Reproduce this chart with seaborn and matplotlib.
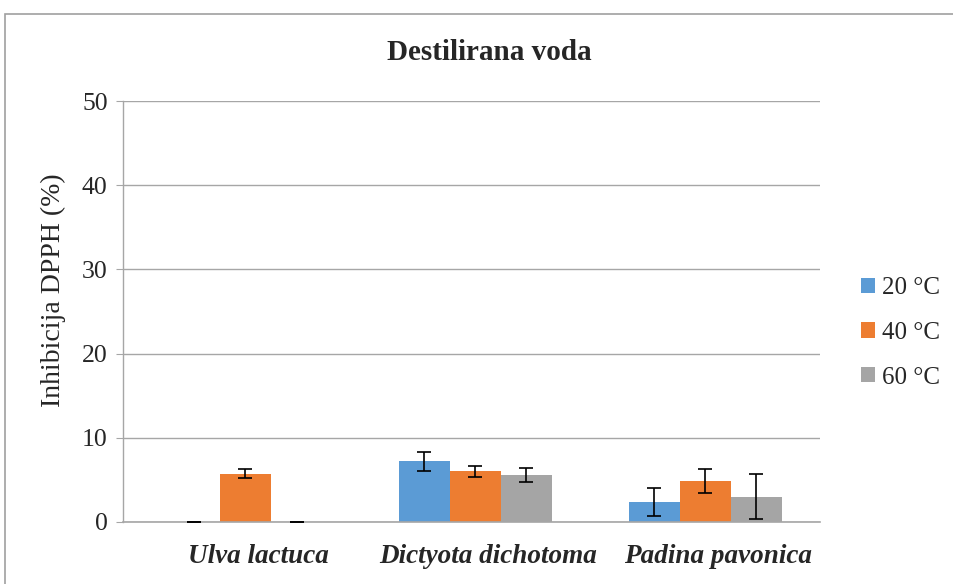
import matplotlib
matplotlib.use("Agg")
import matplotlib.pyplot as plt
import matplotlib.transforms as mtransforms
import seaborn as sns
import pandas as pd
import numpy as np
from matplotlib.patches import Rectangle, Patch

species = ["Ulva lactuca", "Dictyota dichotoma", "Padina pavonica"]
temps = ["20 °C", "40 °C", "60 °C"]
vals_20 = [0.0, 7.2, 2.35]
vals_40 = [5.75, 6.0, 4.85]
vals_60 = [0.0, 5.6, 3.0]
err_20 = [0.0, 1.1, 1.65]
err_40 = [0.55, 0.65, 1.45]
err_60 = [0.0, 0.85, 2.7]
yticks = [0, 10, 20, 30, 40, 50]
colors = ["#5B9BD5", "#ED7D31", "#A5A5A5"]

rows = []
for t, vals, errs in zip(temps, [vals_20, vals_40, vals_60], [err_20, err_40, err_60]):
    for s, v, e in zip(species, vals, errs):
        rows.append({"species": s, "temp": t, "value": v, "err": e})
df = pd.DataFrame(rows)

sns.set_style("white")
plt.rcParams["font.family"] = ["Liberation Serif", "DejaVu Serif"]

fig = plt.figure(figsize=(9.54, 5.84), dpi=100)
ax = fig.add_axes([123/954, 1-522/584, (820-123)/954, (522-101)/584])

sns.barplot(data=df, x="species", y="value", hue="temp", order=species,
            hue_order=temps, palette=colors, width=0.666, errorbar=None,
            saturation=1, ax=ax, legend=False, edgecolor="none", linewidth=0)

for cont, t in zip(ax.containers, temps):
    sub = df[df.temp == t].set_index("species").loc[species]
    xs = [p.get_x() + p.get_width()/2 for p in cont.patches]
    hs = [p.get_height() for p in cont.patches]
    ax.errorbar(xs, hs, yerr=sub["err"].values, fmt="none", ecolor="black",
                elinewidth=1.2, capsize=5, capthick=1.2, zorder=5)

ax.set_ylim(0, 50)
ax.set_yticks(yticks)
ax.set_yticklabels([str(v) for v in yticks], fontsize=18.5)
ax.set_xlim(-0.533, 2.5)
ax.set_xlabel("")
ax.set_ylabel("Inhibicija DPPH (%)", fontsize=20)
ax.yaxis.set_label_coords(-0.082, (522-290)/421)
ax.set_xticks(range(3))
ax.set_xticklabels(species, fontsize=19.5, fontweight="bold", fontstyle="italic")
ax.grid(axis="y", color="#a6a6a6", linewidth=1)
ax.set_axisbelow(True)
for side in ["top", "right"]:
    ax.spines[side].set_visible(False)
ax.spines["left"].set_color("#a6a6a6")
ax.spines["bottom"].set_color("#a6a6a6")
ax.spines["left"].set_linewidth(1)
ax.spines["bottom"].set_linewidth(1.2)
ax.tick_params(axis="y", which="both", left=True, length=5, color="#a6a6a6", pad=6)
ax.tick_params(axis="x", bottom=False, pad=12)

fig.text(489/954, 1-52/584, "Destilirana voda", ha="center", va="center",
         fontsize=21, fontweight="bold")

handles = [Patch(facecolor=c, edgecolor="none") for c in colors]
fig.legend(handles, temps, loc="center left", bbox_to_anchor=(861/954, 1-333/584),
           frameon=False, fontsize=18, handlelength=0.58, handleheight=0.58,
           handletextpad=0.25, labelspacing=0.9, borderaxespad=0, borderpad=0)

fig.patches.append(Rectangle((5/954, -0.05), 1.0, 1.05-14/584, transform=fig.transFigure,
                             fill=False, edgecolor="#a0a0a0", linewidth=1.2))

fig.canvas.draw()
offset = mtransforms.ScaledTranslation(13/100, 0, fig.dpi_scale_trans)
for tick in ax.xaxis.get_major_ticks():
    tick.label1.set_transform(tick.label1.get_transform() + offset)

fig.savefig("out.png", dpi=100)
